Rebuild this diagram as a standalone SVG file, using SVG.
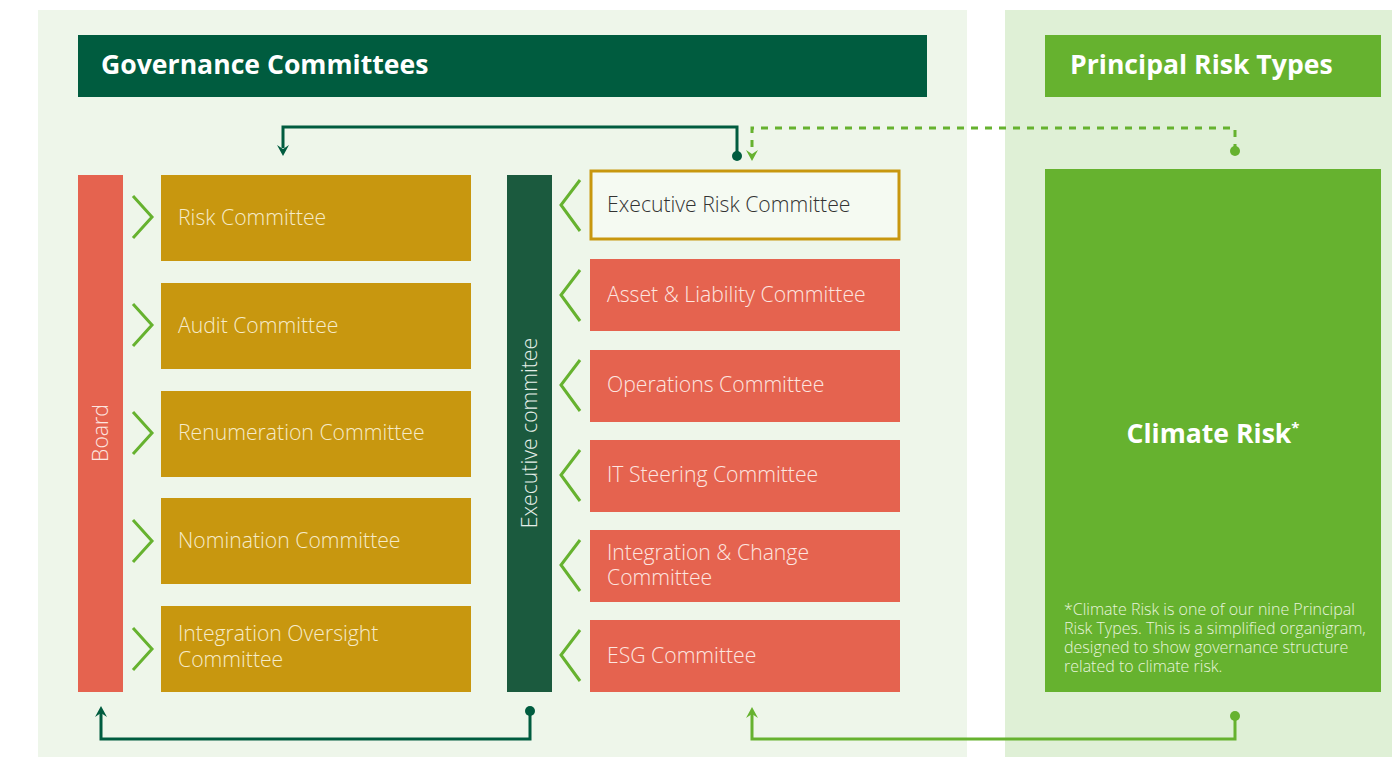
<svg xmlns="http://www.w3.org/2000/svg" width="1392" height="757" viewBox="0 0 1392 757">
<defs>
<style>
.lbl{font-family:"Open Sans","Noto Sans","Liberation Sans",sans-serif;font-weight:300;font-size:21.2px}
.gold{fill:#c8970f}
.red{fill:#e5634f}
.gt{fill:#f6ebc9}
.rt{fill:#fde6e0}
.chev{fill:none;stroke:#66b22f;stroke-width:3}
.hdr{font-family:"Open Sans","Noto Sans","Liberation Sans",sans-serif;font-weight:700;font-size:26.6px;fill:#ffffff}
</style>
</defs>
<rect x="38" y="10" width="929" height="747" fill="#eef6ea"/>
<rect x="1005" y="10" width="387" height="747" fill="#dff0d6"/>

<g id="gov-header">
<rect x="78" y="35" width="849" height="62" fill="#005c3f"/>
<text x="101" y="74" class="hdr">Governance Committees</text>
</g>
<g id="prt-header">
<rect x="1045" y="35" width="336" height="62" fill="#66b22f"/>
<text x="1070" y="74" class="hdr">Principal Risk Types</text>
</g>

<g id="board">
<rect x="78" y="175" width="45" height="517" class="red"/>
<text class="lbl rt" transform="translate(108,433) rotate(-90)" text-anchor="middle">Board</text>
</g>

<g id="risk-committee">
<rect x="161" y="175" width="310" height="86" class="gold"/>
<polyline points="133,196 152,217 133,238" class="chev"/>
<text x="178" y="225" class="lbl gt">Risk Committee</text>
</g>
<g id="audit-committee">
<rect x="161" y="283" width="310" height="86" class="gold"/>
<polyline points="133,304 152,325 133,346" class="chev"/>
<text x="178" y="333" class="lbl gt">Audit Committee</text>
</g>
<g id="renumeration-committee">
<rect x="161" y="391" width="310" height="86" class="gold"/>
<polyline points="133,412 152,433 133,454" class="chev"/>
<text x="178" y="440" class="lbl gt">Renumeration Committee</text>
</g>
<g id="nomination-committee">
<rect x="161" y="498" width="310" height="86" class="gold"/>
<polyline points="133,520 152,541 133,562" class="chev"/>
<text x="178" y="548" class="lbl gt">Nomination Committee</text>
</g>
<g id="integration-oversight-committee">
<rect x="161" y="606" width="310" height="86" class="gold"/>
<polyline points="133,628 152,649 133,670" class="chev"/>
<text x="178" y="641" class="lbl gt">Integration Oversight</text>
<text x="178" y="667" class="lbl gt">Committee</text>
</g>

<g id="executive-committee">
<rect x="507" y="175" width="45" height="517" fill="#1b5a3e"/>
<text class="lbl" fill="#e6efe9" transform="translate(537,433) rotate(-90)" text-anchor="middle">Executive commitee</text>
</g>

<g id="executive-risk-committee">
<rect x="591" y="171" width="308" height="68" fill="#f5faf2" stroke="#c8970f" stroke-width="3"/>
<polyline points="580,180 561,205 580,231" class="chev"/>
<text x="607" y="212" class="lbl" fill="#333333">Executive Risk Committee</text>
</g>
<g id="asset-liability-committee">
<rect x="590" y="259" width="310" height="72" class="red"/>
<polyline points="580,270 561,295 580,321" class="chev"/>
<text x="607" y="302" class="lbl rt">Asset &amp; Liability Committee</text>
</g>
<g id="operations-committee">
<rect x="590" y="350" width="310" height="72" class="red"/>
<polyline points="580,360 561,385 580,411" class="chev"/>
<text x="607" y="392" class="lbl rt">Operations Committee</text>
</g>
<g id="it-steering-committee">
<rect x="590" y="440" width="310" height="72" class="red"/>
<polyline points="580,450 561,475 580,501" class="chev"/>
<text x="607" y="482" class="lbl rt">IT Steering Committee</text>
</g>
<g id="integration-change-committee">
<rect x="590" y="530" width="310" height="72" class="red"/>
<polyline points="580,540 561,565 580,591" class="chev"/>
<text x="607" y="560" class="lbl rt">Integration &amp; Change</text>
<text x="607" y="585" class="lbl rt">Committee</text>
</g>
<g id="esg-committee">
<rect x="590" y="620" width="310" height="72" class="red"/>
<polyline points="580,630 561,655 580,681" class="chev"/>
<text x="607" y="663" class="lbl rt">ESG Committee</text>
</g>

<g id="climate-risk">
<rect x="1045" y="169" width="336" height="523" fill="#66b22f"/>
<text x="1213" y="443" text-anchor="middle" class="hdr">Climate Risk<tspan font-size="15" dy="-10">*</tspan></text>
<g font-family="'Open Sans','Noto Sans','Liberation Sans',sans-serif" font-weight="300" font-size="16" fill="#e6f4dc">
<text x="1064" y="615">*Climate Risk is one of our nine Principal</text>
<text x="1064" y="634">Risk Types. This is a simplified organigram,</text>
<text x="1064" y="653">designed to show governance structure</text>
<text x="1064" y="672">related to climate risk.</text>
</g>
</g>

<g id="connectors" fill="none" stroke-width="3">
<path d="M737,156 V127 H283 V148" stroke="#005c3f"/>
<path d="M277,145 L283,149 L289,145 L283,156 Z" fill="#005c3f" stroke="none"/>
<circle cx="737" cy="156" r="5" fill="#005c3f" stroke="none"/>

<path d="M1235,151 V128 H752 V152" stroke="#66b22f" stroke-dasharray="7,7"/>
<path d="M746,150 L752,154 L758,150 L752,161 Z" fill="#66b22f" stroke="none"/>
<circle cx="1235" cy="151" r="5" fill="#66b22f" stroke="none"/>

<path d="M530,711 V739 H101 V713" stroke="#005c3f"/>
<path d="M95,717 L101,713 L107,717 L101,706 Z" fill="#005c3f" stroke="none"/>
<circle cx="530" cy="711" r="5" fill="#005c3f" stroke="none"/>

<path d="M1235,716 V739 H752 V714" stroke="#66b22f"/>
<path d="M746,718 L752,714 L758,718 L752,707 Z" fill="#66b22f" stroke="none"/>
<circle cx="1235" cy="716" r="5" fill="#66b22f" stroke="none"/>
</g>
</svg>
